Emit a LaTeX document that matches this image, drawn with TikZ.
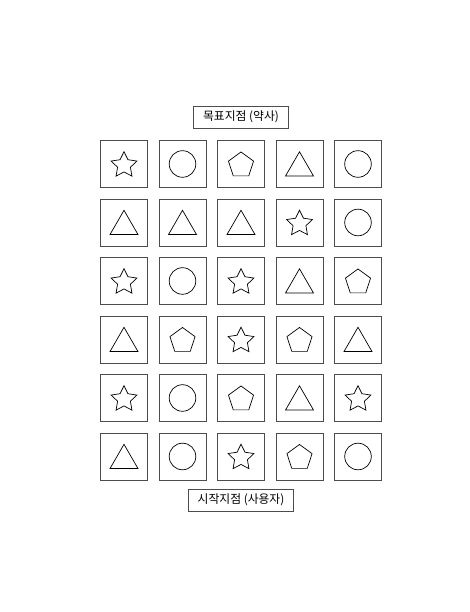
\documentclass[tikz,border=0pt]{standalone}
\usepackage{fontspec}
\setmainfont{Noto Sans CJK KR}
\usetikzlibrary{shapes.geometric}
\tikzset{
  cell/.style={draw=black!70, line width=0.7pt, minimum size=1.175cm, inner sep=0pt},
  sym/.style={draw, line width=0.5pt, inner sep=0pt, outer sep=0pt},
  starsym/.style={sym, star, star points=5, star point ratio=2, minimum size=0.675cm, yshift=-0.03cm},
  circsym/.style={sym, circle, minimum size=0.665cm},
  pentsym/.style={sym, regular polygon, regular polygon sides=5, minimum size=0.66cm, yshift=-0.03cm},
  trisym/.style={sym, regular polygon, regular polygon sides=3, minimum size=0.81cm, yshift=-0.1cm},
  tag/.style={draw=black!70, line width=0.7pt, font=\fontsize{8.4}{10}\selectfont, inner xsep=6.5pt, minimum height=0.55cm}
}
\begin{document}
\begin{tikzpicture}
 \useasboundingbox (0,0) rectangle (11.75,15.3);
 \node[tag] (goal) at (6.025,12.375) {목표지점 (약사)};
 \foreach \row [count=\r] in {{starsym,circsym,pentsym,trisym,circsym},
                              {trisym,trisym,trisym,starsym,circsym},
                              {starsym,circsym,starsym,trisym,pentsym},
                              {trisym,pentsym,starsym,pentsym,trisym},
                              {starsym,circsym,pentsym,trisym,starsym},
                              {trisym,circsym,starsym,pentsym,circsym}}
  \foreach \s [count=\c] in \row {
   \node[cell] (cell-\r-\c) at ({3.1+1.4625*(\c-1)},{11.2-1.4625*(\r-1)}) {};
   \node[\s] (sym-\r-\c) at (cell-\r-\c) {};
  }
 \node[tag] (start) at (6.025,2.8) {시작지점 (사용자)};
\end{tikzpicture}
\end{document}
